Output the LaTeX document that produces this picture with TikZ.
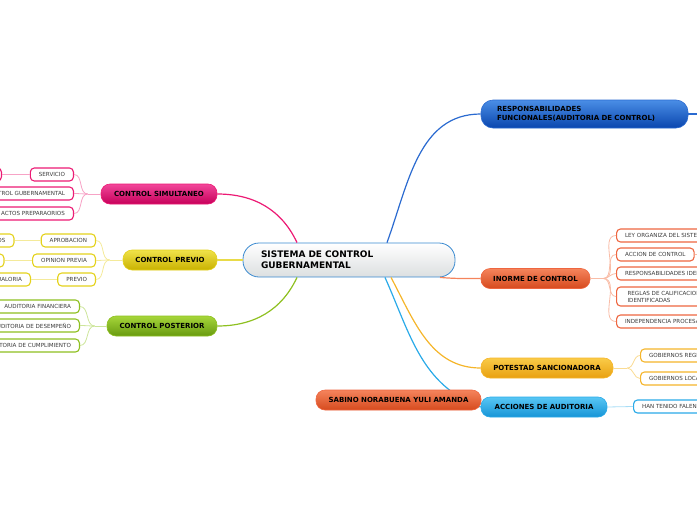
\documentclass[tikz,border=0pt]{standalone}
\usepackage{fontspec}
\setmainfont{DejaVu Sans}
\usepackage{tikz}
\usetikzlibrary{calc}

\definecolor{rootedge}{HTML}{3A8AD0}
\definecolor{rootbot}{HTML}{DCDFE0}
\definecolor{resptop}{HTML}{4A8EE6}
\definecolor{respbot}{HTML}{0A46AE}
\definecolor{respedge}{HTML}{2A6AD0}
\definecolor{simtop}{HTML}{F2469A}
\definecolor{simbot}{HTML}{C6005A}
\definecolor{simedge}{HTML}{EC1A74}
\definecolor{simlink}{HTML}{F7A3C6}
\definecolor{pretop}{HTML}{F0E24A}
\definecolor{prebot}{HTML}{C9B200}
\definecolor{preedge}{HTML}{E4D21C}
\definecolor{prelink}{HTML}{F4EA9A}
\definecolor{postop}{HTML}{A6D63A}
\definecolor{posbot}{HTML}{689A10}
\definecolor{posedge}{HTML}{8EC020}
\definecolor{poslink}{HTML}{CDE59A}
\definecolor{inftop}{HTML}{F5845C}
\definecolor{infbot}{HTML}{D64A1E}
\definecolor{infedge}{HTML}{EE6640}
\definecolor{inflink}{HTML}{F9BCA6}
\definecolor{pottop}{HTML}{FACB48}
\definecolor{potbot}{HTML}{E8A010}
\definecolor{potedge}{HTML}{F5B52A}
\definecolor{potlink}{HTML}{FADB92}
\definecolor{acctop}{HTML}{58C6F4}
\definecolor{accbot}{HTML}{1694D6}
\definecolor{accedge}{HTML}{2AAAE8}
\definecolor{acclink}{HTML}{A8DDF6}
\definecolor{leaftext}{HTML}{3C3C3C}

\begin{document}
\begin{tikzpicture}[
        x=1pt, y=1pt,
        rootnode/.style={rectangle, rounded corners=16pt, draw=rootedge, line width=0.8pt, top color=white, bottom color=rootbot, minimum width=212pt, minimum height=34pt, text width=176pt, inner xsep=18pt, inner ysep=0pt, align=left, font=\bfseries\fontsize{9}{11}\selectfont},
        branchnode/.style={rectangle, rounded corners=9pt, line width=0.6pt, minimum height=20pt, inner sep=0pt, align=center, font=\bfseries\fontsize{7}{9}\selectfont},
        respnode/.style={branchnode, rounded corners=12pt, draw=respedge, top color=resptop, bottom color=respbot, minimum width=207pt, minimum height=28pt, text width=175pt, inner xsep=16pt, align=left},
        simnode/.style={branchnode, draw=simedge, top color=simtop, bottom color=simbot},
        prenode/.style={branchnode, draw=preedge, top color=pretop, bottom color=prebot},
        posnode/.style={branchnode, draw=posedge, top color=postop, bottom color=posbot},
        infnode/.style={branchnode, draw=infedge, top color=inftop, bottom color=infbot},
        potnode/.style={branchnode, draw=potedge, top color=pottop, bottom color=potbot},
        accnode/.style={branchnode, draw=accedge, top color=acctop, bottom color=accbot},
        leafnode/.style={rectangle, rounded corners=4pt, fill=white, line width=1.1pt, minimum height=13pt, inner xsep=8.5pt, inner ysep=0pt, text=leaftext, font=\fontsize{5.6}{7}\selectfont},
        mainlink/.style={draw, line width=1.2pt},
        leaflink/.style={draw, line width=0.8pt}
    ]
    \useasboundingbox (0,0) rectangle (697,-520);
    \clip (0,0) rectangle (697,-520);

    % ==========================================
    % 1. Root and main connectors
    % ==========================================
    \node[rootnode] (sgc) at (349,-260) {SISTEMA DE CONTROL\\GUBERNAMENTAL};

    \node[respnode] (resp) at (584.5,-114) {RESPONSABILIDADES\\FUNCIONALES(AUDITORIA DE CONTROL)};
    \node[simnode, minimum width=116pt] (sim) at (159,-194) {CONTROL SIMULTANEO};
    \node[prenode, minimum width=94pt] (pre) at (170,-260) {CONTROL PREVIO};
    \node[posnode, minimum width=110pt] (pos) at (162,-326) {CONTROL POSTERIOR};
    \node[infnode, minimum width=109pt] (inf) at (535.5,-278.5) {INORME DE CONTROL};
    \node[potnode, minimum width=132pt] (pot) at (547,-368) {POTESTAD SANCIONADORA};

    \path[mainlink, respedge] ([xshift=38pt]sgc.north) to[out=70, in=180] (resp.west);
    \path[mainlink, simedge] ([xshift=-52pt]sgc.north) to[out=115, in=0] (sim.east);
    \path[mainlink, preedge!80] (sgc.west) -- (pre.east);
    \path[mainlink, posedge] ([xshift=-52pt]sgc.south) to[out=245, in=0] (pos.east);
    \path[mainlink, inftop] ([xshift=91pt]sgc.south) to[out=-5, in=180] (inf.west);
    \path[mainlink, potedge] ([xshift=42pt]sgc.south) to[out=-62, in=180] (pot.west);

    % acciones de auditoria: the link runs under the name node
    \node[accnode, minimum width=126pt] (acc) at (544,-407) {ACCIONES DE AUDITORIA};
    \path[mainlink, accedge] ([xshift=36pt]sgc.south) to[out=-66, in=160] (acc.west);
    \node[infnode, minimum width=165pt] (sab) at (398.5,-400) {SABINO NORABUENA YULI AMANDA};

    \coordinate (resp-out) at (720,-114);
    \path[mainlink, respedge] (resp.east) -- (resp-out);

    % ==========================================
    % 2. Left side leaves
    % ==========================================
    % control simultaneo
    \node[leafnode, draw=simedge, anchor=east] (srv) at (74,-174.5) {SERVICIO};
    \node[leafnode, draw=simedge, anchor=east, minimum width=40pt] (srv-c) at (2,-174.5) {};
    \node[leafnode, draw=simedge, anchor=east] (cgu) at (74,-193.5) {CONTROL GUBERNAMENTAL};
    \node[leafnode, draw=simedge, anchor=east] (apr) at (74,-213.5) {ACTOS PREPARAORIOS};
    \coordinate (sim-j) at ([xshift=-13pt]sim.west);
    \path[leaflink, simlink] (sim.west) -- (sim-j);
    \foreach \j in {srv, cgu, apr} {
        \path[leaflink, simlink] (sim-j) to[out=180, in=0] (\j.east);
    }
    \path[leaflink, simlink] (srv.west) -- (srv-c.east);

    % control previo
    \node[leafnode, draw=preedge, anchor=east] (apb) at (96,-240.5) {APROBACION};
    \node[leafnode, draw=preedge, anchor=east] (apb-c) at (14.5,-240.5) {PROCEDIMIENTOS};
    \node[leafnode, draw=preedge, anchor=east] (opv) at (96,-260.5) {OPINION PREVIA};
    \node[leafnode, draw=preedge, anchor=east, minimum width=40pt] (opv-c) at (4.5,-260.5) {};
    \node[leafnode, draw=preedge, anchor=east] (prv) at (96,-279.5) {PREVIO};
    \node[leafnode, draw=preedge, anchor=east] (prv-c) at (31,-279.5) {CONTRALORIA};
    \coordinate (pre-j) at ([xshift=-13pt]pre.west);
    \path[leaflink, prelink] (pre.west) -- (pre-j);
    \foreach \j in {apb, opv, prv} {
        \path[leaflink, prelink] (pre-j) to[out=180, in=0] (\j.east);
        \path[leaflink, prelink] (\j.west) -- (\j-c.east);
    }

    % control posterior
    \node[leafnode, draw=posedge, anchor=east] (afi) at (80,-306.5) {AUDITORIA FINANCIERA};
    \node[leafnode, draw=posedge, anchor=east] (ade) at (80,-325.5) {AUDITORIA DE DESEMPEÑO};
    \node[leafnode, draw=posedge, anchor=east] (acu) at (80,-345.5) {AUDITORIA DE CUMPLIMIENTO};
    \coordinate (pos-j) at ([xshift=-12pt]pos.west);
    \path[leaflink, poslink] (pos.west) -- (pos-j);
    \foreach \j in {afi, ade, acu} {
        \path[leaflink, poslink] (pos-j) to[out=180, in=0] (\j.east);
    }

    % ==========================================
    % 3. Right side leaves
    % ==========================================
    % informe de control
    \node[leafnode, draw=infedge, anchor=west] (ley) at (616,-235.5) {LEY ORGANIZA DEL SISTEMA NACIONAL DE CONTROL};
    \node[leafnode, draw=infedge, anchor=west] (acn) at (616,-254.5) {ACCION DE CONTROL};
    \node[leafnode, draw=infedge, anchor=west] (rid) at (616,-273.5) {RESPONSABILIDADES IDENTIFICADAS};
    \node[leafnode, draw=infedge, anchor=west, minimum height=19pt, align=left, inner xsep=11pt] (rcl) at (616,-296.5) {REGLAS DE CALIFICACION DE INFRACCIONES\\IDENTIFICADAS};
    \node[leafnode, draw=infedge, anchor=west] (ipr) at (616,-321.5) {INDEPENDENCIA PROCESAL};
    \coordinate (inf-j) at ([xshift=13pt]inf.east);
    \path[leaflink, inflink] (inf.east) -- (inf-j);
    \foreach \j in {ley, acn, rid, rcl, ipr} {
        \path[leaflink, inflink] (inf-j) to[out=0, in=180] (\j.west);
    }
    \coordinate (acn-out) at (720,-254.5);
    \path[leaflink, inflink] (acn.east) -- (acn-out);

    % potestad sancionadora
    \node[leafnode, draw=potedge, anchor=west] (gre) at (640,-355.5) {GOBIERNOS REGIONALES};
    \node[leafnode, draw=potedge, anchor=west] (glo) at (640,-378.5) {GOBIERNOS LOCALES};
    \coordinate (pot-j) at ([xshift=14pt]pot.east);
    \path[leaflink, potlink] (pot.east) -- (pot-j);
    \foreach \j in {gre, glo} {
        \path[leaflink, potlink] (pot-j) to[out=0, in=180] (\j.west);
    }

    % acciones de auditoria
    \node[leafnode, draw=accedge, anchor=west] (htf) at (633,-406.5) {HAN TENIDO FALENCIAS};
    \path[leaflink, acclink] (acc.east) -- (htf.west);

\end{tikzpicture}
\end{document}
